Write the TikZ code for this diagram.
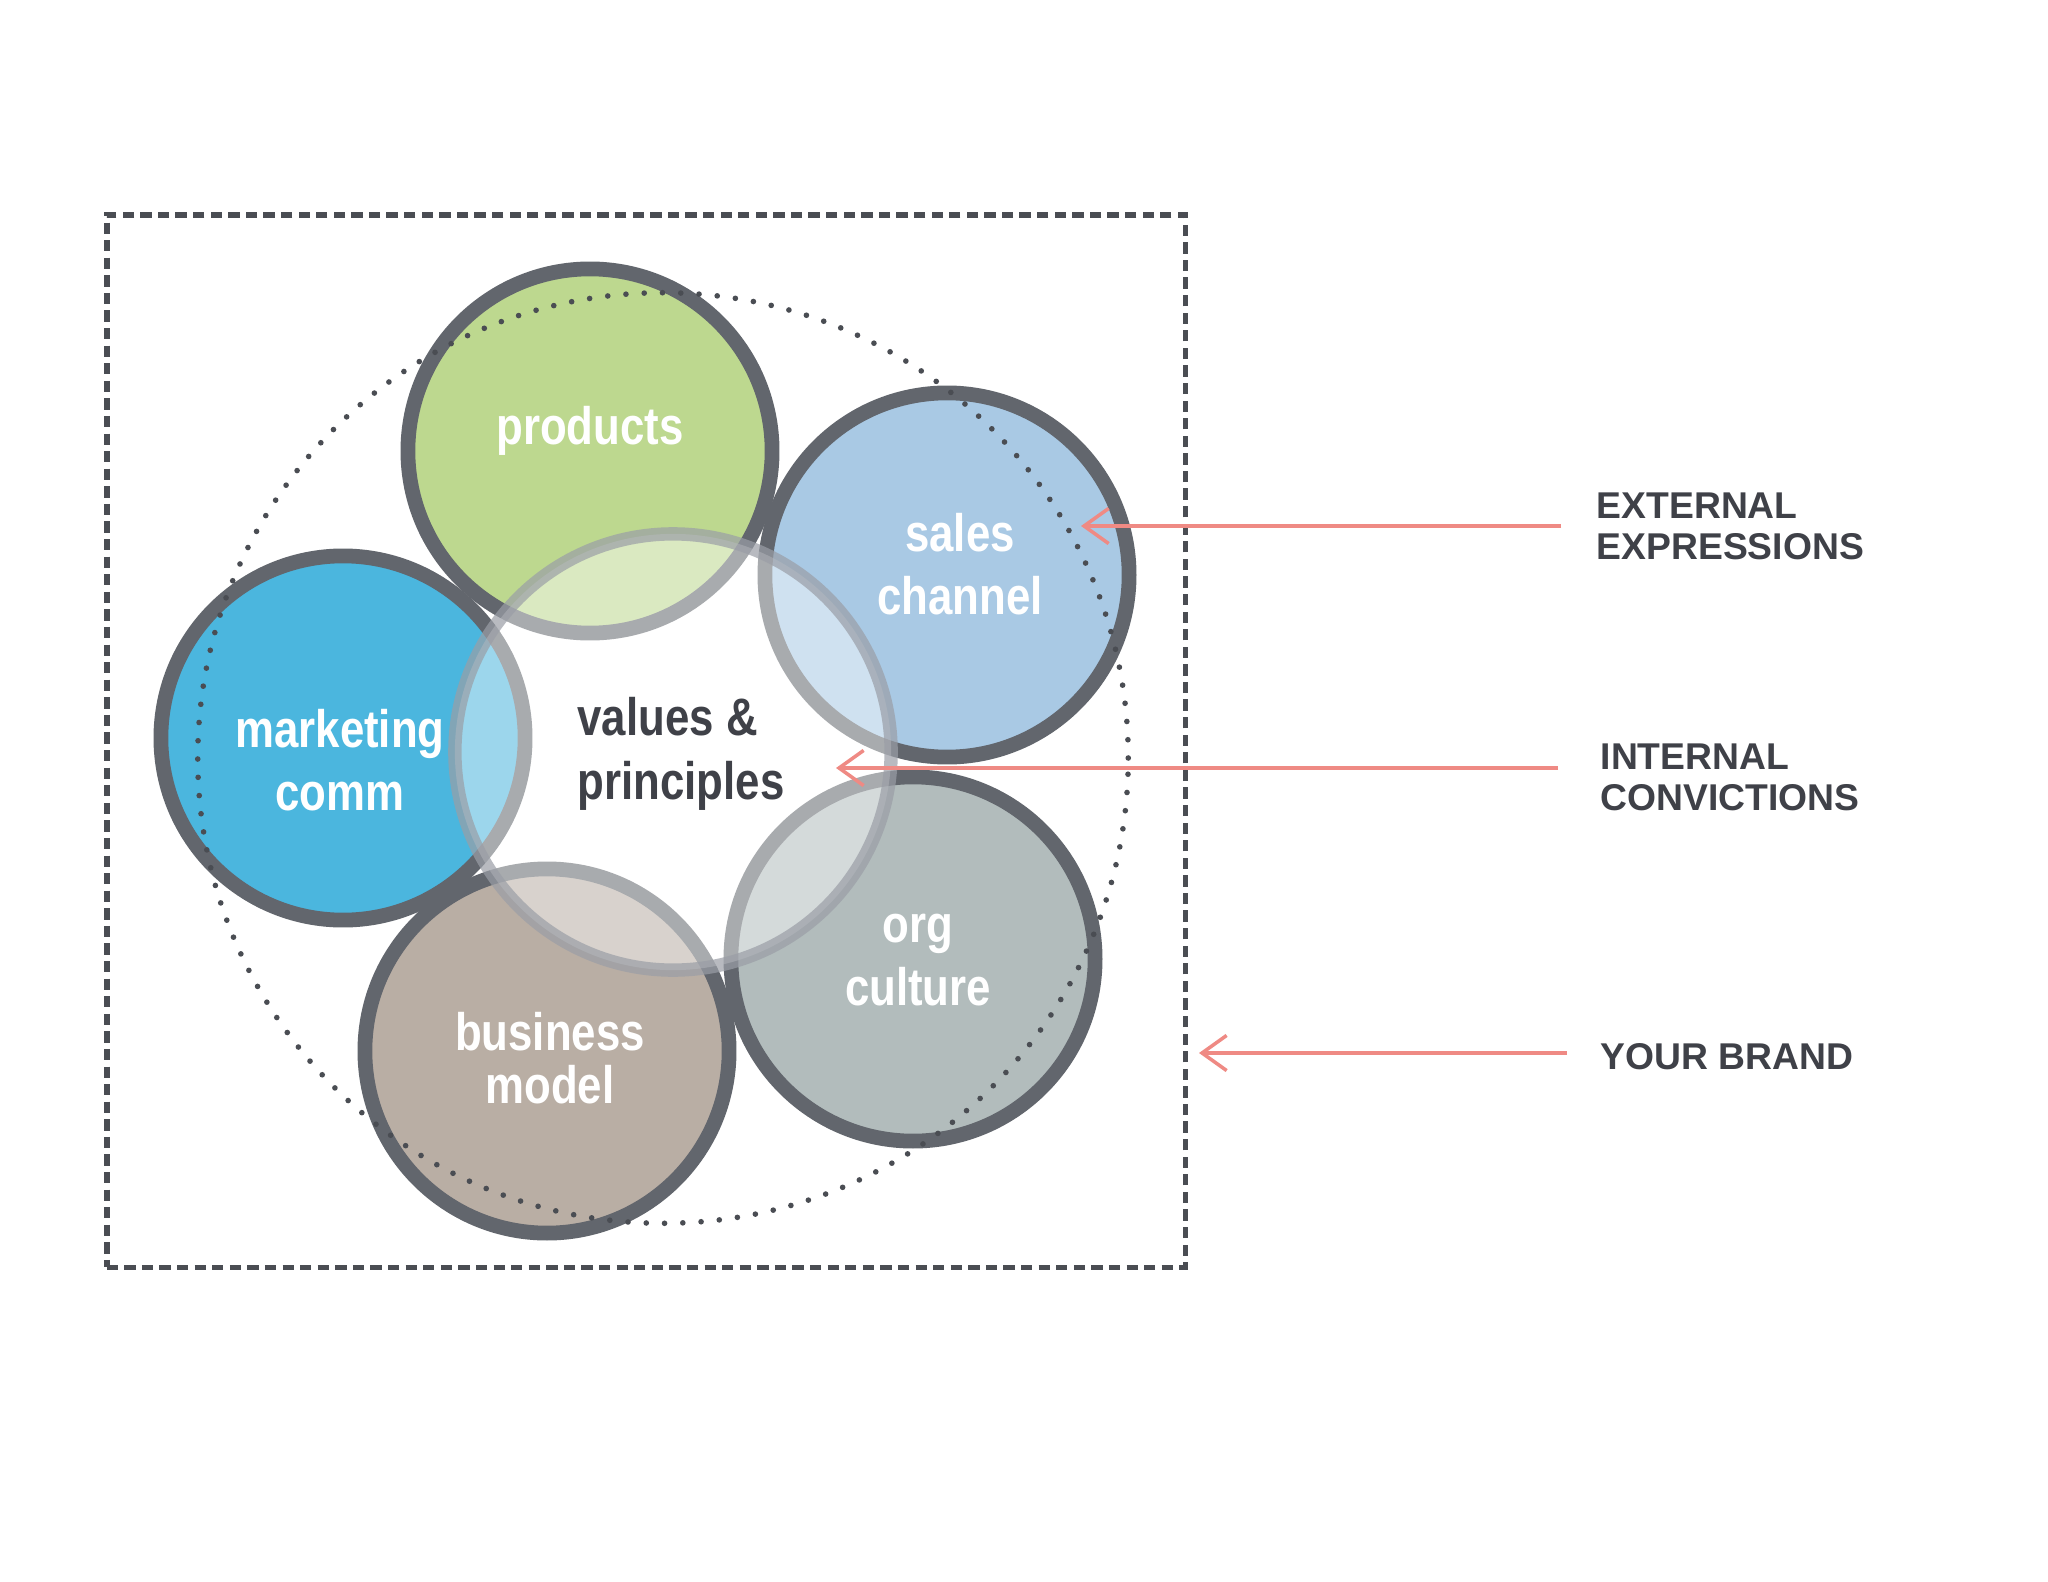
\documentclass[tikz,border=0pt]{standalone}
\usepackage{fontspec}
\setmainfont{Liberation Sans}
\newfontfamily\circfont[FakeStretch=0.83]{Liberation Sans}
\usetikzlibrary{positioning, arrows.meta}

\definecolor{prodgreen}{HTML}{BDD88F}
\definecolor{salesblue}{HTML}{A9C9E4}
\definecolor{mktblue}{HTML}{4BB6DE}
\definecolor{bizbrown}{HTML}{B9AEA4}
\definecolor{orggray}{HTML}{B2BCBC}
\definecolor{rimgray}{HTML}{62666D}
\definecolor{dotgray}{HTML}{4A4D53}
\definecolor{hubgray}{HTML}{9A9EA6}
\definecolor{inkgray}{HTML}{3F4148}
\definecolor{arrowred}{HTML}{EF8A84}

\begin{document}
\begin{tikzpicture}[x=0.01cm, y=-0.01cm]

        % Define block styles
        \tikzstyle{disc} = [circle, draw=rimgray, line width=4.2pt, minimum size=3.64cm, inner sep=0pt]
        \tikzstyle{hub} = [circle, draw=hubgray, draw opacity=0.7, fill=white, fill opacity=0.45, line width=3.8pt, minimum size=4.36cm, inner sep=0pt]
        \tikzstyle{disclabel} = [text=white, font=\circfont\bfseries\fontsize{15}{18}\selectfont, align=center]
        \tikzstyle{hublabel} = [text=inkgray, font=\circfont\bfseries\fontsize{15}{18}\selectfont, align=left]
        \tikzstyle{sidenote} = [text=inkgray, font=\bfseries\fontsize{10.6}{11.6}\selectfont, align=left, anchor=west, inner sep=0pt]
        \tikzstyle{halo} = [circle, draw=dotgray, line width=1.6pt, line cap=round, dash pattern=on 0pt off 5.2pt, minimum size=9.3cm]
        \tikzstyle{brandbox} = [rectangle, draw=dotgray, line width=1.6pt, dash pattern=on 3.2pt off 1.8pt, minimum width=10.78cm, minimum height=10.52cm]
        \tikzstyle{pointer} = [draw=arrowred, line width=1pt, -{Straight Barb[length=7pt,width=10pt]}]

        \fill [white] (0,0) rectangle (2048,1582);
        \useasboundingbox (0,0) rectangle (2048,1582);

        % Components
        \node (box) [brandbox] at (646,741) {};
        \node (products) [disc, fill=prodgreen] at (590,451) {};
        \node (sales) [disc, fill=salesblue] at (947,575) {};
        \node (marketing) [disc, fill=mktblue] at (343,738) {};
        \node (business) [disc, fill=bizbrown] at (547,1051) {};
        \node (org) [disc, fill=orggray] at (913,959) {};
        \node (brand) [halo] at (663,758) {};
        \node (values) [hub] at (673,752) {};

        % Labels
        \node (values-txt) [hublabel] at (681,754) {values \&\\principles};
        \node (products-txt) [disclabel] at (590,431) {products};
        \node (sales-txt) [disclabel] at (960,564) {sales\\channel};
        \node (marketing-txt) [disclabel] at (340,760) {marketing\\comm};
        \node (business-txt) [disclabel] at (550,1058) {business\\[-3pt]model};
        \node (org-txt) [disclabel] at (918,960) {org\\culture};

        \node (ext) [sidenote] at (1596,526) {EXTERNAL\\EXPRESSIONS};
        \node (int) [sidenote] at (1600,777) {INTERNAL\\CONVICTIONS};
        \node (yours) [sidenote] at (1600,1057) {YOUR BRAND};

        % Arrows
        \coordinate (ext-tip) at (1081,526);
        \coordinate (int-tip) at (836,768);
        \coordinate (yours-tip) at (1199,1053);
        \draw [pointer] (ext.west) ++(-35,0) -- (ext-tip);
        \draw [pointer] (int.west) ++(-42,-9) -- (int-tip);
        \draw [pointer] (yours.west) ++(-33,-4) -- (yours-tip);

\end{tikzpicture}
\end{document}
